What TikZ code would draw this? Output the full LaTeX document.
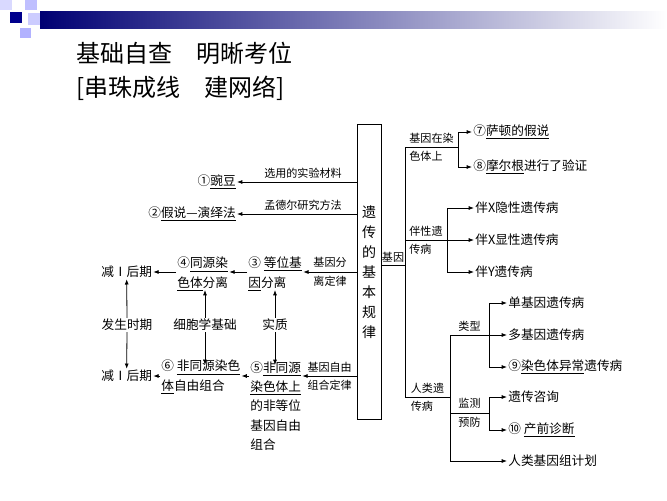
\documentclass[tikz,border=0pt]{standalone}
\usepackage{fontspec}
\setmainfont{Noto Sans CJK SC}
\usetikzlibrary{arrows.meta}
\newcommand{\ul}[1]{\underline{#1}}
\begin{document}
\begin{tikzpicture}[x=0.75pt,y=-0.75pt,
  every node/.style={inner sep=0pt,outer sep=1pt,font=\fontsize{9.5}{12}\selectfont},
  lab/.style={font=\fontsize{8.3}{13}\selectfont,align=center},
  lab2/.style={font=\fontsize{8.3}{13.8}\selectfont,align=left},
  txt/.style={align=left,font=\fontsize{9.5}{14.5}\selectfont},
  ar/.style={-{Latex[length=4pt,width=3pt]},line width=0.6pt},
  ln/.style={line width=0.6pt}]
\useasboundingbox (0,0) rectangle (667,500);
% header decoration
\shade[left color=blue!45!black, right color=white] (40,11) rectangle (667,28);
\fill[blue!15] (0,0) rectangle (12,10);
\fill[blue!25] (25,0) rectangle (37,10);
\fill[blue!55!black] (10,12) rectangle (22,23);
\fill[blue!20] (28,13) rectangle (40,25);
\fill[blue!30] (20,28) rectangle (31,38);
\node[anchor=west,font=\fontsize{18}{20}\selectfont] (t1) at (75,53) {基础自查\quad 明晰考位};
\node[anchor=west,font=\fontsize{18}{20}\selectfont] (t2) at (75,88) {[串珠成线\quad 建网络]};
% central box
\node[draw,ln,minimum width=18pt,minimum height=221pt,inner sep=0pt] (box) at (369,272) {};
\node[align=center,font=\fontsize{10.5}{15}\selectfont] (boxt) at (369,272) {遗\\传\\的\\基\\本\\规\\律};
% left side
\node[anchor=east] (n1) at (237,182) {①\ul{豌豆}};
\node[anchor=east] (n2) at (237,214) {②\ul{假说—演绎法}};
\coordinate (b1) at (357,182); \coordinate (b2) at (357,214);
\draw[ar] (b1) -- (n1.east) node[lab,pos=0.45,above=2pt] {选用的实验材料};
\draw[ar] (b2) -- (n2.east) node[lab,pos=0.45,above=2pt] {孟德尔研究方法};
\node[txt,anchor=west] (n3) at (247,274) {③ \ul{等位基}\\\ul{因}分离};
\node[txt,anchor=west] (n4) at (176,274) {④\ul{同源染}\\\ul{色体}分离};
\node[anchor=west] (k1) at (100,272) {减Ⅰ后期};
\coordinate (b3) at (357,272);
\draw[ar] (b3) -- (n3.east|-b3) node[lab2,midway] {基因分\\离定律};
\draw[ar] (n3.west|-b3) -- (n4.east|-b3);
\draw[ar] (n4.west|-b3) -- (k1.east);
\node[txt,anchor=north west] (n5) at (249,360) {⑤\ul{非同源}\\\ul{染色体上}\\的非等位\\基因自由\\组合};
\node[txt,anchor=west] (n6) at (160,377) {⑥ \ul{非同源染色}\\\ul{体}自由组合};
\node[anchor=west] (k2) at (100,376) {减Ⅰ后期};
\coordinate (b4) at (357,376);
\draw[ar] (b4) -- (n5.east|-b4) node[lab2,midway] {基因自由\\组合定律};
\draw[ar] (n5.west|-b4) -- (n6.east|-b4);
\draw[ar] (n6.west|-b4) -- (k2.east);
\node (m1) at (127,325) {发生时期};
\node (m2) at (205,325) {细胞学基础};
\node (m3) at (275,325) {实质};
\draw[ar] (m1.north) -- (k1.south);
\draw[ar] (m1.south) -- (k2.north);
\draw[ar] (m2.north) -- (205,290);
\draw[ar] (m2.south) -- (205,365);
\draw[ar] (m3.north) -- (275,290);
\draw[ar] (m3.south) -- (275,365);
% right side
\coordinate (r0) at (381,265); \coordinate (tr) at (405,265);
\draw[ln] (r0) -- (tr) node[lab,midway,above=1pt] {基因};
\coordinate (tt) at (405,147); \coordinate (tb) at (405,397);
\draw[ln] (tt) -- (tb);
% branch 1
\coordinate (v1) at (458,147);
\draw[ln] (tt) -- (v1) node[lab2,midway] {基因在染\\色体上};
\node[anchor=west] (a7) at (472,132) {⑦\ul{萨顿的假说}};
\node[anchor=west] (a8) at (472,167) {⑧\ul{摩尔根}进行了验证};
\draw[ln] (458,132) -- (458,167);
\draw[ar] (458,132) -- (a7.west); \draw[ar] (458,167) -- (a8.west);
% branch 2
\coordinate (v2) at (447,240);
\draw[ln] (405,240) -- (v2) node[lab2,midway] {伴性遗\\传病};
\node[anchor=west] (x1) at (474,208) {伴X隐性遗传病};
\node[anchor=west] (x2) at (474,240) {伴X显性遗传病};
\node[anchor=west] (x3) at (474,272) {伴Y遗传病};
\draw[ln] (447,208) -- (447,272);
\draw[ar] (447,208) -- (x1.west); \draw[ar] (v2) -- (x2.west); \draw[ar] (447,272) -- (x3.west);
% branch 3
\draw[ln] (tb) -- (450,397) node[lab2,midway] {人类遗\\传病};
\draw[ln] (450,335) -- (450,461);
\draw[ln] (450,335) -- (489,335) node[lab,midway,above=2pt] {类型};
\draw[ln] (489,303) -- (489,367);
\node[anchor=west] (d1) at (507,303) {单基因遗传病};
\node[anchor=west] (d2) at (507,335) {多基因遗传病};
\node[anchor=west] (d3) at (507,367) {⑨\ul{染色体异常}遗传病};
\draw[ar] (489,303) -- (d1.west); \draw[ar] (489,335) -- (d2.west); \draw[ar] (489,367) -- (d3.west);
\draw[ln] (450,413) -- (489,413) node[lab2,midway] {监测\\预防};
\draw[ln] (489,397) -- (489,430);
\node[anchor=west] (e1) at (507,397) {遗传咨询};
\node[anchor=west] (e2) at (507,430) {⑩ \ul{产前诊断}};
\draw[ar] (489,397) -- (e1.west); \draw[ar] (489,430) -- (e2.west);
\node[anchor=west] (e3) at (507,461) {人类基因组计划};
\draw[ar] (450,461) -- (e3.west);
\end{tikzpicture}
\end{document}
